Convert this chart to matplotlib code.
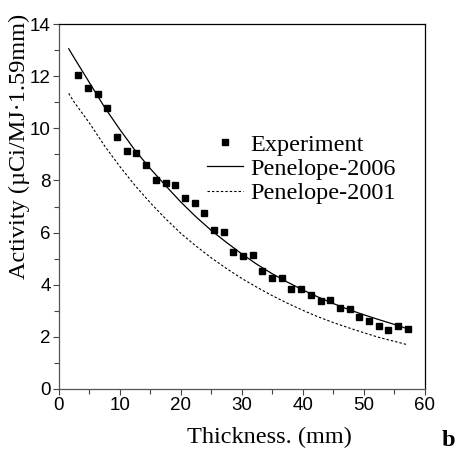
import numpy as np
import matplotlib
matplotlib.use('Agg')
import matplotlib.pyplot as plt
from matplotlib.ticker import MultipleLocator

## Activity vs absorber thickness, experiment vs two Penelope versions
# experiment: plates of 1.59 mm each
exp_x = [1.59 * k for k in range(2, 37)]
exp_y = [12.06, 11.56, 11.30, 10.79, 9.68, 9.13, 9.05, 8.59, 8.02, 7.90,
         7.81, 7.33, 7.15, 6.74, 6.11, 6.03, 5.24, 5.11, 5.13, 4.53,
         4.26, 4.26, 3.85, 3.85, 3.59, 3.39, 3.40, 3.10, 3.06, 2.77,
         2.61, 2.42, 2.26, 2.41, 2.30]

pen06_x = [1.6, 2.5, 5, 7.5, 10, 12.5, 15, 17.5, 20, 22.5, 25, 27.5, 30,
           32.5, 35, 37.5, 40, 42.5, 45, 47.5, 50, 52.5, 55, 57.2]
pen06_y = [13.05, 12.70, 11.75, 10.80, 9.95, 9.15, 8.45, 7.80, 7.17, 6.60,
           6.08, 5.62, 5.18, 4.78, 4.42, 4.10, 3.80, 3.53, 3.28, 3.05,
           2.85, 2.66, 2.48, 2.31]

pen01_x = [1.6, 2.5, 5, 7.5, 10, 12.5, 15, 17.5, 20, 22.5, 25, 27.5, 30,
           32.5, 35, 37.5, 40, 42.5, 45, 47.5, 50, 52.5, 55, 57.0]
pen01_y = [11.34, 11.00, 10.20, 9.32, 8.53, 7.80, 7.14, 6.53, 5.97, 5.48,
           5.03, 4.62, 4.24, 3.90, 3.58, 3.29, 3.02, 2.77, 2.55, 2.35,
           2.16, 1.98, 1.83, 1.71]

xticks = [0, 10, 20, 30, 40, 50, 60]
yticks = [0, 2, 4, 6, 8, 10, 12, 14]

serif = 'Liberation Serif'
sans = 'Liberation Sans'

fig = plt.figure(figsize=(4.59, 4.53), dpi=100)
ax = fig.add_axes([0.1285, 0.1413, 0.7965, 0.8057])

ax.plot(exp_x, exp_y, 's', color='black', ms=5, label='Experiment')
ax.plot(pen06_x, pen06_y, '-', color='black', lw=0.9, label='Penelope-2006')
ax.plot(pen01_x, pen01_y, color='black', lw=0.8, ls=(0, (2.2, 1.8)), label='Penelope-2001')

ax.set_xlim(0, 60)
ax.set_ylim(0, 14)
ax.set_xticks(xticks)
ax.set_yticks(yticks)
ax.xaxis.set_minor_locator(MultipleLocator(5))
ax.yaxis.set_minor_locator(MultipleLocator(1))
ax.tick_params(which='both', direction='out', top=False, right=False,
               color='#444444', width=0.8)
ax.tick_params(which='major', length=4, labelsize=13.5, pad=2)
ax.tick_params(which='minor', length=3.5)
for lab in ax.get_xticklabels() + ax.get_yticklabels():
    lab.set_fontfamily(sans)

ax.spines['left'].set_color('#555555')
ax.spines['bottom'].set_color('#555555')
for s in ax.spines.values():
    s.set_linewidth(0.9)

fig.text(19 / 459, 1 - 146 / 453, 'Activity (\u00b5Ci/MJ\u00b71.59mm)', rotation=90,
         ha='center', va='center', fontsize=17.5, family=serif)
fig.text(269 / 459, 1 - 437 / 453, 'Thickness. (mm)', ha='center', va='center',
         fontsize=17.5, family=serif)
fig.text(448 / 459, 1 - 440 / 453, 'b', ha='center', va='center',
         fontsize=17.5, family=serif, weight='bold')

ax.legend(loc='upper left', bbox_to_anchor=(0.405, 0.70), frameon=False,
          prop={'family': serif, 'size': 17.5}, borderpad=0, borderaxespad=0,
          labelspacing=0.1, handlelength=1.46, handletextpad=0.3, numpoints=1)

plt.savefig('out.png', dpi=100)
